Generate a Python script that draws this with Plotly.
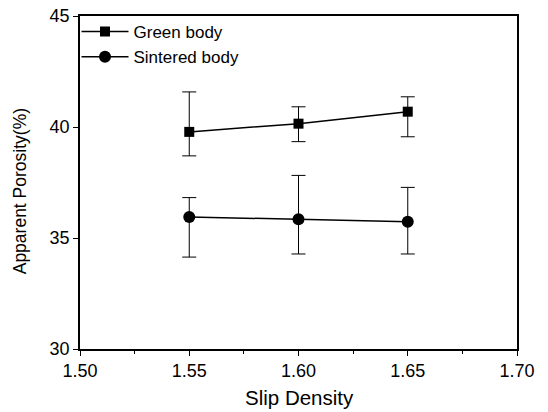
import plotly.graph_objects as go

slip_density = [1.55, 1.60, 1.65]
green_body = [39.78, 40.15, 40.69]
green_err_plus = [1.80, 0.76, 0.67]
green_err_minus = [1.08, 0.81, 1.13]
sintered_body = [35.95, 35.84, 35.73]
sintered_err_plus = [0.87, 1.98, 1.55]
sintered_err_minus = [1.81, 1.56, 1.45]
x_tick_vals = [1.50, 1.55, 1.60, 1.65, 1.70]
x_tick_text = ["1.50", "1.55", "1.60", "1.65", "1.70"]
x_minor_vals = [1.525, 1.575, 1.625, 1.675]
y_tick_vals = [30, 35, 40, 45]
x_title = "Slip Density"
y_title = "Apparent Porosity(%)"

font_family = "Liberation Sans, Arial, sans-serif"

fig = go.Figure()
fig.add_trace(go.Scatter(
    x=slip_density, y=green_body, name="Green body", mode="lines+markers",
    line=dict(color="black", width=1.5),
    marker=dict(symbol="square", size=10, color="black"),
    error_y=dict(type="data", symmetric=False, array=green_err_plus,
                 arrayminus=green_err_minus, color="black", thickness=1, width=7),
))
fig.add_trace(go.Scatter(
    x=slip_density, y=sintered_body, name="Sintered body", mode="lines+markers",
    line=dict(color="black", width=1.5),
    marker=dict(symbol="circle", size=12, color="black"),
    error_y=dict(type="data", symmetric=False, array=sintered_err_plus,
                 arrayminus=sintered_err_minus, color="black", thickness=1, width=7),
))

fig.update_layout(
    width=548, height=412,
    margin=dict(l=80, r=31, t=16, b=63, autoexpand=False),
    paper_bgcolor="white", plot_bgcolor="white",
    font=dict(family=font_family, color="black", size=17),
    showlegend=True,
    legend=dict(x=-0.008, y=1.006, xanchor="left", yanchor="top",
                bgcolor="rgba(0,0,0,0)", font=dict(size=17),
                tracegroupgap=0, itemwidth=47),
    xaxis=dict(range=[1.50, 1.70], tickvals=x_tick_vals, ticktext=x_tick_text,
               tickfont=dict(size=18), automargin=False,
               showline=True, linecolor="black", linewidth=1.5, mirror=True,
               ticks="outside", ticklen=5, tickcolor="black", showgrid=False,
               zeroline=False,
               minor=dict(tickvals=x_minor_vals, ticks="outside",
                          ticklen=3, tickcolor="black")),
    yaxis=dict(range=[30, 45], tickvals=y_tick_vals,
               tickfont=dict(size=18), automargin=False,
               showline=True, linecolor="black", linewidth=1.5, mirror=True,
               ticks="outside", ticklen=5, tickcolor="black", showgrid=False,
               zeroline=False),
)

fig.add_annotation(text=x_title, xref="paper", yref="paper", x=0.503, y=-0.104,
                   xanchor="center", yanchor="top", showarrow=False,
                   font=dict(size=20.5, family=font_family, color="black"))
fig.add_annotation(text=y_title, xref="paper", yref="paper", x=-0.137, y=0.474,
                   xanchor="center", yanchor="middle", showarrow=False, textangle=-90,
                   font=dict(size=17.5, family=font_family, color="black"))

fig.write_html("out.html")
